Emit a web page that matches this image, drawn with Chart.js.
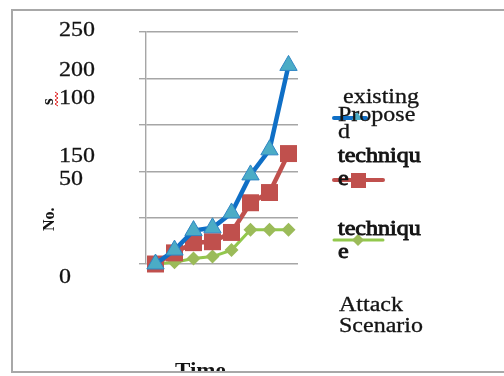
<!DOCTYPE html>
<html>
<head>
<meta charset="utf-8">
<script src="https://cdn.jsdelivr.net/npm/chart.js@4.4.1/dist/chart.umd.min.js"></script>
<style>
html, body { margin: 0; padding: 0; background: #fff; }
canvas { display: block; }
</style>
</head>
<body>
<canvas id="g_attacks" width="504" height="376"></canvas>
<script>
const timeSteps = ['1', '2', '3', '4', '5', '6', '7', '8'];
const proposed = [0, 15, 36, 39, 55, 96, 123, 214];
const existing = [0, 12, 23, 24, 34, 66, 77, 119];
const attackScenario = [0, 2, 6, 8, 15, 37, 37, 37];
// tick labels, in the (jumbled) order they appear down the left side
const yTickLabels = ['250', '200', '100', '150', '50', '0'];
const legendWords = ['existing', 'Propose', 'd', 'techniqu', 'e', 'techniqu', 'e', 'Attack', 'Scenario'];
const yTitleBits = ['No.', 's'];
const xTitle = 'Time';

const BLUE = '#0f6fc6';
const RED = '#c0504d';
const GREEN = '#92c84c';

function wideText(ctx, str, x, y, font, sx, heavy) {
    ctx.save();
    ctx.font = font;
    ctx.translate(x, y);
    ctx.scale(sx || 1.2, 1);
    ctx.fillText(str, 0, 0);
    if (heavy) {
        ctx.lineWidth = heavy;
        ctx.strokeStyle = ctx.fillStyle;
        ctx.strokeText(str, 0, 0);
    }
    ctx.restore();
}

function triangle(ctx, x, y, r) {
    ctx.beginPath();
    ctx.moveTo(x, y - r);
    ctx.lineTo(x + r * 0.866, y + r / 2);
    ctx.lineTo(x - r * 0.866, y + r / 2);
    ctx.closePath();
}

// everything the old picture has that is not a plain axis
const decorations = {
    id: 'decorations',
    beforeDraw(chart) {
        const ctx = chart.ctx;
        ctx.save();
        ctx.fillStyle = '#fff';
        ctx.fillRect(0, 0, chart.width, chart.height);
        ctx.restore();
    },
    afterDraw(chart) {
        const ctx = chart.ctx;
        ctx.save();
        ctx.fillStyle = '#141414';
        ctx.textBaseline = 'alphabetic';
        const serif = '"Liberation Serif", "Times New Roman", serif';

        // y tick labels
        const tickY = [36, 76, 104, 162, 185, 283];
        yTickLabels.forEach((t, i) => wideText(ctx, t, 59, tickY[i], '20px ' + serif, 1.2, 0.3));

        // y title fragments, rotated
        ctx.save();
        ctx.font = 'bold 16px ' + serif;
        ctx.translate(54, 231);
        ctx.rotate(-Math.PI / 2);
        ctx.fillText(yTitleBits[0], 0, 0);
        ctx.restore();
        ctx.save();
        ctx.font = 'bold 17px ' + serif;
        ctx.translate(53, 105);
        ctx.rotate(-Math.PI / 2);
        ctx.fillText(yTitleBits[1], 0, 0);
        ctx.restore();
        // spell check squiggle
        ctx.save();
        ctx.strokeStyle = '#e02020';
        ctx.lineWidth = 1;
        ctx.beginPath();
        for (let k = 0; k <= 7; k++) {
            const px = k % 2 ? 58 : 55;
            const py = 92 + k * 2;
            if (k === 0) ctx.moveTo(px, py); else ctx.lineTo(px, py);
        }
        ctx.stroke();
        ctx.restore();

        // legend samples
        ctx.save();
        ctx.lineCap = 'round';
        ctx.lineWidth = 4;
        ctx.strokeStyle = BLUE;
        ctx.beginPath(); ctx.moveTo(334, 118); ctx.lineTo(366, 118); ctx.stroke();
        ctx.fillStyle = '#4bacc6';
        triangle(ctx, 357, 117, 6); ctx.fill();
        ctx.strokeStyle = RED;
        ctx.beginPath(); ctx.moveTo(334, 180); ctx.lineTo(383, 180); ctx.stroke();
        ctx.fillStyle = RED;
        ctx.fillRect(351, 173, 15, 15);
        ctx.lineWidth = 3;
        ctx.strokeStyle = GREEN;
        ctx.beginPath(); ctx.moveTo(334, 240); ctx.lineTo(383, 240); ctx.stroke();
        ctx.fillStyle = '#9bbb59';
        ctx.beginPath();
        ctx.moveTo(358, 234); ctx.lineTo(364, 240); ctx.lineTo(358, 246); ctx.lineTo(352, 240);
        ctx.closePath(); ctx.fill();
        ctx.restore();

        // legend words
        const lx = [343, 338, 338, 338, 338, 338, 338, 339, 339];
        const ly = [103, 121, 138, 162, 185, 235, 258, 311, 332];
        const heavy = [0.3, 0.3, 0.3, 0.9, 0.9, 0.9, 0.9, 0.3, 0.3];
        legendWords.forEach((w, i) => {
            wideText(ctx, w, lx[i], ly[i], '20px ' + serif, 1.2, heavy[i]);
        });

        // x title, cut off by the frame
        ctx.save();
        ctx.beginPath();
        ctx.rect(0, 0, chart.width, 371);
        ctx.clip();
        wideText(ctx, xTitle, 175, 377, 'bold 20px ' + serif, 1.15);
        ctx.restore();

        // outer frame (no right edge visible)
        ctx.strokeStyle = '#a8a8a8';
        ctx.lineWidth = 2;
        ctx.beginPath();
        ctx.moveTo(chart.width + 2, 10);
        ctx.lineTo(12, 10);
        ctx.lineTo(12, 372);
        ctx.lineTo(chart.width + 2, 372);
        ctx.stroke();
        ctx.restore();
    }
};

const ctx = document.getElementById('g_attacks').getContext('2d');
const conData = {
    labels: timeSteps,
    datasets: [{
        label: 'Proposed technique',
        data: proposed,
        borderColor: BLUE,
        borderWidth: 4.5,
        pointStyle: 'triangle',
        pointRadius: 10,
        pointBackgroundColor: '#4bacc6',
        pointBorderColor: '#2f86c4',
        pointBorderWidth: 1,
        clip: false
    }, {
        label: 'existing technique',
        data: existing,
        borderColor: RED,
        borderWidth: 4.5,
        pointStyle: 'rect',
        pointRadius: 12,
        pointBackgroundColor: RED,
        pointBorderColor: RED,
        pointBorderWidth: 0,
        clip: false
    }, {
        label: 'Attack Scenario',
        data: attackScenario,
        borderColor: GREEN,
        borderWidth: 3,
        pointStyle: 'rectRot',
        pointRadius: 7,
        pointBackgroundColor: '#9bbb59',
        pointBorderColor: '#9bbb59',
        pointBorderWidth: 0,
        clip: false
    }]
};
const options = {
    responsive: false,
    animation: false,
    layout: { padding: { left: 139, right: 206, top: 32, bottom: 112 } },
    plugins: {
        legend: { display: false },
        title: { display: false },
        tooltip: { enabled: false }
    },
    elements: { line: { tension: 0 } },
    scales: {
        x: {
            type: 'category',
            offset: true,
            grid: { display: false, drawTicks: false },
            border: { display: false },
            ticks: { display: false }
        },
        y: {
            min: 0,
            max: 250,
            ticks: { display: false, stepSize: 50 },
            grid: { color: '#a6a6a6', lineWidth: 1.4, tickLength: 7, drawTicks: true },
            border: { color: '#a6a6a6', width: 1.4 }
        }
    }
};
new Chart(ctx, { type: 'line', data: conData, options: options, plugins: [decorations] });
</script>
</body>
</html>
